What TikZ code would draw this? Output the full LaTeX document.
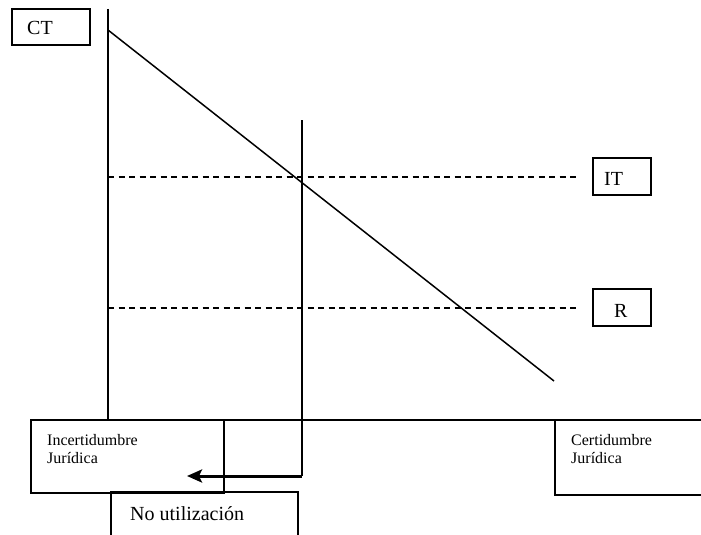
\documentclass[tikz,border=0pt]{standalone}
\usepackage{fontspec}
\setmainfont{Liberation Serif}
\usetikzlibrary{arrows.meta}
\begin{document}
\begin{tikzpicture}[x=1pt,y=-1pt,
  ln/.style={line width=1.5pt},
  big/.style={font=\fontsize{20}{22}\selectfont,inner sep=0pt,anchor=base west},
  small/.style={font=\fontsize{16}{18}\selectfont,inner sep=0pt,anchor=base west},
  dashln/.style={line width=1.4pt,dash pattern=on 6pt off 4.5pt}]
\useasboundingbox (0,0) rectangle (701,535);
\clip (0,0) rectangle (701,535);
% boxes
\draw[ln] (12,9) rectangle (90,45);
\node[big] (ct) at (27,35) {CT};
\draw[ln] (593,158) rectangle (651,195);
\node[big] (it) at (604,185) {IT};
\draw[ln] (593,289) rectangle (651,326);
\node[big] (r) at (614,317) {R};
\draw[ln] (31,420) rectangle (224,493);
\node[small] (inc1) at (47,445) {Incertidumbre};
\node[small] (inc2) at (47,463) {Jurídica};
\draw[ln] (555,420) rectangle (710,495);
\node[small] (cer1) at (571,445) {Certidumbre};
\node[small] (cer2) at (571,463) {Jurídica};
\draw[ln] (111,492) rectangle (298,560);
\node[big] (nou) at (130,520) {No utilización};
% coordinates
\coordinate (axtop) at (108,9);
\coordinate (axbot) at (108,420);
\coordinate (incNE) at (224,420);
\coordinate (cerNW) at (555,420);
\coordinate (dstart) at (108,30);
\coordinate (dend) at (554,381);
\coordinate (itL) at (108,177);
\coordinate (itR) at (576,177);
\coordinate (rL) at (108,308);
\coordinate (rR) at (576,308);
\coordinate (vtop) at (302,120);
\coordinate (vbot) at (302,476);
\coordinate (arr) at (187,476);
% lines
\draw[ln] (axtop) -- (axbot);
\draw[ln] (incNE) -- (cerNW);
\draw[ln] (dstart) -- (dend);
\draw[dashln] (itL) -- (itR);
\draw[dashln] (rL) -- (rR);
\draw[ln] (vtop) -- (vbot);
\draw[line width=3pt,-{Stealth[length=15pt,width=13pt,inset=3pt]}] (vbot) -- (arr);
\end{tikzpicture}
\end{document}
